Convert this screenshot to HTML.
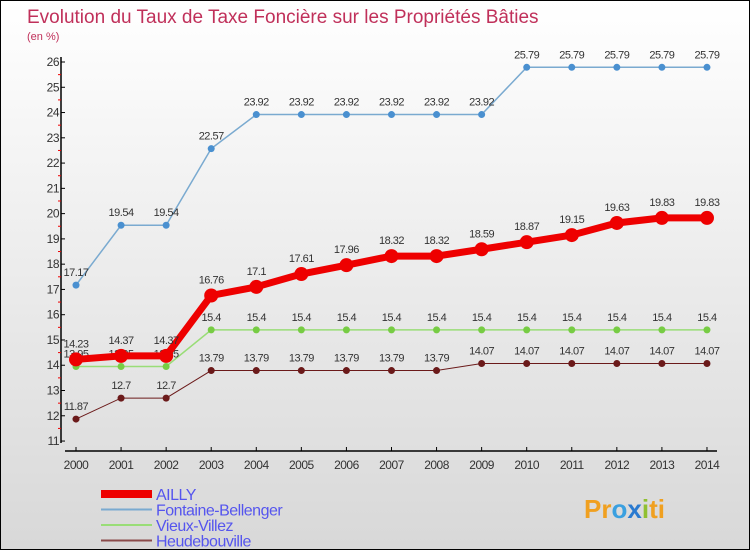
<!DOCTYPE html>
<html><head><meta charset="utf-8"><style>
body{margin:0;}
#c{width:750px;height:550px;position:relative;background:linear-gradient(#ffffff,#d8d8d8);border:1px solid #000;box-sizing:border-box;overflow:hidden;font-family:"Liberation Sans",sans-serif;}
</style></head><body>
<div id="c">
<svg id="s" width="750" height="550"></svg>
</div>
<script>
const years=[2000,2001,2002,2003,2004,2005,2006,2007,2008,2009,2010,2011,2012,2013,2014];
const ailly=[14.23,14.37,14.37,16.76,17.1,17.61,17.96,18.32,18.32,18.59,18.87,19.15,19.63,19.83,19.83];
const fontaine=[17.17,19.54,19.54,22.57,23.92,23.92,23.92,23.92,23.92,23.92,25.79,25.79,25.79,25.79,25.79];
const vieux=[13.95,13.95,13.95,15.4,15.4,15.4,15.4,15.4,15.4,15.4,15.4,15.4,15.4,15.4,15.4];
const heude=[11.87,12.7,12.7,13.79,13.79,13.79,13.79,13.79,13.79,14.07,14.07,14.07,14.07,14.07,14.07];
const yTicks=[11,12,13,14,15,16,17,18,19,20,21,22,23,24,25,26];
const NS='http://www.w3.org/2000/svg';
const s=document.getElementById('s');
const X=i=>75+i*45.07;
const Y=v=>61+(26-v)*25.27;
function el(t,a,p){const e=document.createElementNS(NS,t);for(const k in a)e.setAttribute(k,a[k]);(p||s).appendChild(e);return e;}
function txt(x,y,str,a){const e=el('text',Object.assign({x:x,y:y},a));e.textContent=str;return e;}
let t=txt(26,22,'Evolution du Taux de Taxe Foncière sur les Propriétés Bâties',{fill:'#c0305a','font-size':19});


t=txt(26,39,'(en %)',{fill:'#c0305a','font-size':11});


let ax=el('line',{x1:60,y1:56,x2:60,y2:442,stroke:'#000','stroke-width':1.5});


ax=el('line',{x1:64,y1:450,x2:716,y2:450,stroke:'#000','stroke-width':1.5});


yTicks.forEach(v=>{el('line',{x1:60,y1:Y(v),x2:64,y2:Y(v),stroke:'#000'});
 if(v<26)el('line',{x1:57,y1:Y(v+0.5),x2:60,y2:Y(v+0.5),stroke:'#e00'});
 const l=txt(58,Y(v)+4,String(v),{fill:'#333','font-size':12,'text-anchor':'end','letter-spacing':'-0.5'});
 
 });
years.forEach((yr,i)=>{el('line',{x1:X(i),y1:446,x2:X(i),y2:450,stroke:'#000'});
 const l=txt(X(i),468,String(yr),{fill:'#333','font-size':12,'text-anchor':'middle','letter-spacing':'-0.5'});
 
 });
function series(data,color,w,r,name,dotFill,dy){
 const g=el('g',{});
 
 
 el('polyline',{points:data.map((v,i)=>X(i)+','+Y(v)).join(' '),fill:'none',stroke:color,'stroke-width':w},g);
 data.forEach((v,i)=>{const c=el('circle',{cx:X(i),cy:Y(v),r:r,fill:dotFill||color},g);
  
  
  const l=txt(X(i),Y(v)-dy,String(v),{fill:'#333','font-size':11,'text-anchor':'middle','letter-spacing':'-0.5'},g);
  
  });
}
series(heude,'#6b1a1a',1,3.5,'heudebouville-series','#6b1a1a',9);
series(vieux,'#99dd77',1.5,3.5,'vieux-villez-series','#77cc44',9);
series(fontaine,'#7aaad0',1.5,3.5,'fontaine-bellenger-series','#4a90d0',9);
series(ailly,'#ee0000',7,7,'ailly-series','#ee0000',12);
const leg=[['AILLY','#ee0000',8],['Fontaine-Bellenger','#7aaad0',2],['Vieux-Villez','#99dd77',2],['Heudebouville','#8a4a4a',2]];
leg.forEach((l,i)=>{const y=493+i*15.5;
 const g=el('g',{});
 
 
 el('line',{x1:100,y1:y,x2:151,y2:y,stroke:l[1],'stroke-width':l[2]},g);
 txt(155,y+6,l[0],{fill:'#5555ee','font-size':16,'letter-spacing':'-0.5'},g);});
const p=txt(583,517,'',{'font-size':26,'font-weight':'bold'});


[['Pr','#f0a020'],['o','#3aa0e0'],['x','#2a7ad0'],['i','#90c030'],['ti','#f0a020']].forEach(a=>{const ts=el('tspan',{fill:a[1]},p);ts.textContent=a[0];});
</script>
</body></html>
